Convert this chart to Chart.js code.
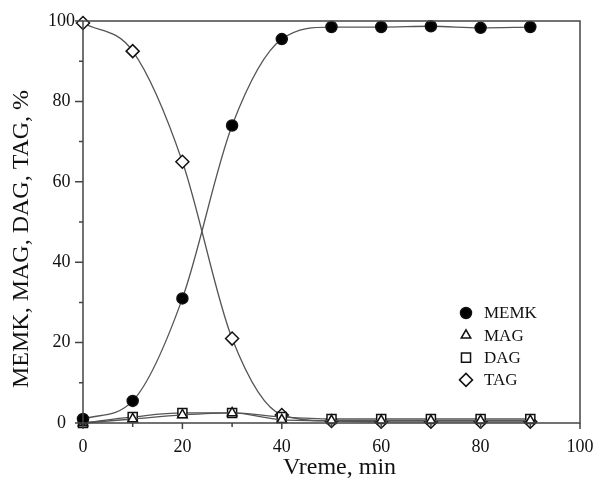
<!DOCTYPE html>
<html>
<head>
<meta charset="utf-8">
<script src="https://cdn.jsdelivr.net/npm/chart.js@4/dist/chart.umd.min.js"></script>
<style>
  html, body { margin: 0; padding: 0; background: #fff; }
  #wrap { width: 599px; height: 484px; }
</style>
</head>
<body>
<div id="wrap"><canvas id="chart" width="599" height="484"></canvas></div>
<script>
// vreme (min)
const times = [0, 10, 20, 30, 40, 50, 60, 70, 80, 90];
const memk = [1, 5.5, 31, 74, 95.5, 98.5, 98.5, 98.7, 98.3, 98.5];
const mag = [0, 1, 2, 2.5, 0.8, 0.6, 0.6, 0.6, 0.6, 0.6];
const dag = [0, 1.5, 2.5, 2.5, 1.5, 1, 1, 1, 1, 1];
const tag = [99.5, 92.5, 65, 21, 2, 0.5, 0.3, 0.3, 0.3, 0.3];
const xTicks = [0, 20, 40, 60, 80, 100];
const yTicks = [0, 20, 40, 60, 80, 100];
const xTitle = 'Vreme, min';
const yTitle = 'MEMK, MAG, DAG, TAG, %';

const serif = '"Liberation Serif", "DejaVu Serif", serif';
const axisColor = '#444';

function pts(vals) {
    return vals.map((v, i) => ({ x: times[i], y: v }));
}

function series(label, vals, style, fill, radius) {
    return {
        label: label,
        data: pts(vals),
        borderColor: '#555',
        borderWidth: 1.3,
        cubicInterpolationMode: 'monotone',
        pointStyle: style,
        pointRadius: radius,
        pointBorderColor: '#111',
        pointBorderWidth: 1.5,
        pointBackgroundColor: fill,
        clip: false,
        fill: false
    };
}

const allSteps = [0, 10, 20, 30, 40, 50, 60, 70, 80, 90, 100];

// okvir, crtice (velike i male) i nazivi osa
const frame = {
    id: 'frame',
    afterDraw(chart) {
        const a = chart.chartArea;
        const ctx = chart.ctx;
        const sx = chart.scales.x, sy = chart.scales.y;
        ctx.save();
        ctx.strokeStyle = axisColor;
        ctx.lineWidth = 1.5;
        ctx.strokeRect(a.left, a.top, a.right - a.left, a.bottom - a.top);
        ctx.beginPath();
        allSteps.forEach(v => {
            const px = sx.getPixelForValue(v);
            const lx = xTicks.includes(v) ? 6 : 4;
            ctx.moveTo(px, a.bottom);
            ctx.lineTo(px, a.bottom + lx);
            const py = sy.getPixelForValue(v);
            const ly = yTicks.includes(v) ? 8 : 4;
            ctx.moveTo(a.left, py);
            ctx.lineTo(a.left - ly, py);
        });
        ctx.stroke();

        ctx.fillStyle = '#111';
        ctx.font = '24px ' + serif;
        ctx.textAlign = 'center';
        ctx.textBaseline = 'middle';
        ctx.fillText(xTitle, (a.left + a.right) / 2 + 8, 468);
        ctx.translate(22, 239);
        ctx.rotate(-Math.PI / 2);
        ctx.fillText(yTitle, 0, 0);
        ctx.restore();
    }
};

// legenda unutar grafika
const innerLegend = {
    id: 'innerLegend',
    afterDraw(chart) {
        const ctx = chart.ctx;
        const x0 = 466, y0 = 313, step = 22.3;
        ctx.save();
        chart.data.datasets.forEach((ds, i) => {
            const y = y0 + i * step;
            ctx.fillStyle = ds.pointBackgroundColor;
            ctx.strokeStyle = ds.pointBorderColor;
            ctx.lineWidth = ds.pointBorderWidth;
            Chart.helpers.drawPoint(ctx, {
                pointStyle: ds.pointStyle,
                radius: ds.pointRadius,
                borderWidth: ds.pointBorderWidth,
                rotation: 0
            }, x0, y);
            ctx.fillStyle = '#111';
            ctx.font = '17px ' + serif;
            ctx.textBaseline = 'middle';
            ctx.fillText(ds.label, 484, y + 1);
        });
        ctx.restore();
    }
};

new Chart(document.getElementById('chart'), {
    type: 'line',
    data: {
        datasets: [
            series('MEMK', memk, 'circle', '#000', 5.5),
            series('MAG', mag, 'triangle', '#fff', 5.5),
            series('DAG', dag, 'rect', '#fff', 6.4),
            series('TAG', tag, 'rectRot', '#fff', 6.5)
        ]
    },
    options: {
        responsive: false,
        animation: false,
        layout: { padding: { left: 0, right: 19, top: 21, bottom: 0 } },
        plugins: {
            legend: { display: false },
            tooltip: { enabled: false }
        },
        scales: {
            x: {
                type: 'linear',
                min: 0,
                max: 100,
                afterBuildTicks: s => { s.ticks = xTicks.map(v => ({ value: v })); },
                afterFit: s => { s.height = 61; s.paddingRight = 0; s.paddingLeft = 0; },
                grid: { display: false, drawTicks: false },
                border: { display: false },
                ticks: {
                    color: '#111',
                    font: { family: serif, size: 18 },
                    padding: 13,
                    maxRotation: 0,
                    autoSkip: false
                },
                title: { display: false }
            },
            y: {
                min: 0,
                max: 100,
                afterBuildTicks: s => { s.ticks = yTicks.map(v => ({ value: v })); },
                afterFit: s => { s.width = 83; },
                grid: { display: false, drawTicks: false },
                border: { display: false },
                ticks: {
                    color: '#111',
                    font: { family: serif, size: 18 },
                    padding: 8,
                    crossAlign: 'center',
                    autoSkip: false
                },
                title: { display: false }
            }
        }
    },
    plugins: [frame, innerLegend]
});
</script>
</body>
</html>
